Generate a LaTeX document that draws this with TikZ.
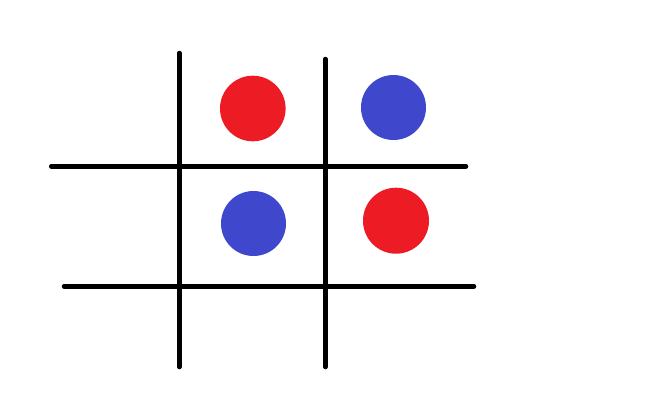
\documentclass[tikz,border=0pt]{standalone}
\definecolor{pred}{HTML}{ED1C24}
\definecolor{pblue}{HTML}{3F48CC}
\begin{document}
\begin{tikzpicture}[x=1pt,y=-1pt,
  gridline/.style={line width=4.5pt,black,line cap=round},
  reddisc/.style={fill=pred,draw=none},
  bluedisc/.style={fill=pblue,draw=none}]
\useasboundingbox[fill=white] (0,0) rectangle (662,405);
\draw[gridline] (179.3,53) -- (179.3,367);
\draw[gridline] (325.3,59) -- (325.3,367);
\draw[gridline] (51.2,166.3) -- (466,166.3);
\draw[gridline] (64,286.3) -- (474,286.3);
\fill[reddisc] (252.8,108.5) circle (32.8);
\fill[bluedisc] (393.5,107.5) circle (32.5);
\fill[bluedisc] (253.5,223.5) circle (32.5);
\fill[reddisc] (396,220.7) circle (33);
\end{tikzpicture}
\end{document}
